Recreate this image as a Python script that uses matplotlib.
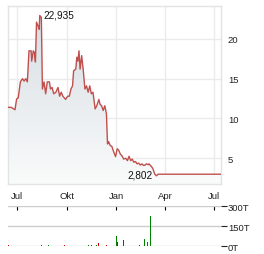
import numpy as np
import pandas as pd
import matplotlib
matplotlib.use("Agg")
import matplotlib.pyplot as plt
import matplotlib.dates as mdates

plt.rcParams['font.family'] = ['Liberation Sans', 'DejaVu Sans']

price_dates = [
    "2023-06-14", "2023-06-20", "2023-06-27", "2023-06-30", "2023-07-03", "2023-07-07",
    "2023-07-11", "2023-07-14", "2023-07-17", "2023-07-20", "2023-07-23", "2023-07-27",
    "2023-07-28", "2023-07-31", "2023-08-02", "2023-08-04", "2023-08-06", "2023-08-09",
    "2023-08-11", "2023-08-12", "2023-08-15", "2023-08-17", "2023-08-20", "2023-08-23",
    "2023-08-26", "2023-08-30", "2023-09-01", "2023-09-04", "2023-09-07", "2023-09-11",
    "2023-09-15", "2023-09-18", "2023-09-21", "2023-09-24", "2023-09-29", "2023-10-03",
    "2023-10-06", "2023-10-09", "2023-10-12", "2023-10-14", "2023-10-18", "2023-10-20",
    "2023-10-22", "2023-10-24", "2023-10-26", "2023-10-29", "2023-11-01", "2023-11-04",
    "2023-11-07", "2023-11-10", "2023-11-13", "2023-11-16", "2023-11-19", "2023-11-23",
    "2023-11-26", "2023-11-30", "2023-12-02", "2023-12-05", "2023-12-08", "2023-12-11",
    "2023-12-14", "2023-12-16", "2023-12-18", "2023-12-21", "2023-12-24", "2023-12-27",
    "2023-12-31", "2024-01-03", "2024-01-06", "2024-01-09", "2024-01-12", "2024-01-15",
    "2024-01-19", "2024-01-22", "2024-01-25", "2024-01-28", "2024-01-31", "2024-02-03",
    "2024-02-06", "2024-02-09", "2024-02-12", "2024-02-15", "2024-02-18", "2024-02-21",
    "2024-02-24", "2024-02-26", "2024-03-01", "2024-03-02", "2024-03-05", "2024-03-09",
    "2024-03-13", "2024-03-16", "2024-03-19", "2024-07-14",
]
prices = [
    11.4, 11.4, 11.1, 12.45, 12.6, 14.6,
    15.0, 14.7, 15.0, 14.6, 18.5, 18.5,
    17.2, 18.5, 18.3, 17.1, 22.1, 21.6,
    21.2, 22.935, 22.7, 13.7, 14.6, 13.1,
    14.6, 14.6, 13.7, 13.9, 13.1, 13.3,
    13.9, 12.8, 13.3, 12.8, 12.4, 12.8,
    12.8, 13.7, 14.1, 16.0, 16.2, 17.7,
    17.2, 18.5, 16.2, 17.9, 16.0, 13.7,
    14.1, 13.3, 14.1, 13.1, 13.3, 11.2,
    11.6, 12.4, 11.8, 11.6, 11.0, 11.6,
    10.6, 6.8, 7.1, 6.6, 6.5, 5.9,
    5.2, 6.2, 6.0, 5.5, 5.3, 4.9,
    5.0, 4.7, 5.25, 4.7, 4.9, 4.5,
    4.6, 4.3, 4.4, 4.15, 4.3, 4.1,
    4.15, 4.3, 4.2, 4.3, 4.1, 3.75,
    3.0, 2.802, 3.0, 3.0,
]

vol_dates = [
    "2023-06-15", "2023-07-23", "2023-08-15", "2023-08-29", "2023-09-27", "2023-11-06",
    "2023-11-10", "2023-11-16", "2023-11-25", "2023-11-29", "2023-12-14", "2023-12-17",
    "2023-12-30", "2024-01-02", "2024-01-04", "2024-01-15", "2024-01-23", "2024-02-14",
    "2024-02-22", "2024-02-28", "2024-03-05",
]
volumes = [8, 8, 8, 9, 8, 72, 8, 8, 9, 25, 8, 9, 9, 80, 32, 50, 115, 8, 57, 30, 227]
vol_up = [False, False, True, True, False, True, True, False, True, False, False, True,
          True, True, False, False, False, False, True, True, True]

tick_dates = ["2023-07-01", "2023-10-01", "2024-01-01", "2024-04-01", "2024-07-01"]
tick_labels = ["Jul", "Okt", "Jan", "Apr", "Jul"]
price_ticks = [5, 10, 15, 20]
vol_ticks = [0, 150, 300]
vol_tick_labels = ["0T", "150T", "300T"]

x = pd.to_datetime(price_dates)
xv = pd.to_datetime(vol_dates)
xt = pd.to_datetime(tick_dates)
x_lo, x_hi = pd.Timestamp("2023-06-14"), pd.Timestamp("2024-07-14")
y_lo, y_hi = 1.77, 24.13

fig = plt.figure(figsize=(2.64, 2.55), dpi=100)
ax = fig.add_axes([8 / 264, 1 - 185 / 255, 213 / 264, 178 / 255])
axv = fig.add_axes([8 / 264, 1 - 247.3 / 255, 213 / 264, 40 / 255])

# price panel
line_col = '#c0504d'
poly = ax.fill_between(x, prices, y_lo, color='none', lw=0)
grad = np.linspace(0, 1, 256).reshape(-1, 1)
cmap = matplotlib.colors.LinearSegmentedColormap.from_list('g', ['#fafbfb', '#d6dde3'])
xl = mdates.date2num([x_lo, x_hi])
im = ax.imshow(grad, aspect='auto', cmap=cmap, origin='lower',
               extent=[xl[0], xl[1], y_lo, 23.0], zorder=1)
im.set_clip_path(poly.get_paths()[0], transform=ax.transData)
ax.plot(x, prices, color=line_col, lw=1.0, zorder=3)

ax.set_xlim(x_lo, x_hi)
ax.set_ylim(y_lo, y_hi)
ax.set_xticks(xt)
ax.set_xticklabels(tick_labels)
ax.set_yticks(price_ticks)
ax.yaxis.tick_right()
ax.tick_params(axis='both', length=0, labelsize=6.8, colors='#222222')
ax.tick_params(axis='x', pad=5)
ax.tick_params(axis='y', pad=5)
ax.grid(True, color='#ebebeb', lw=1)
ax.set_axisbelow(True)
for s in ax.spines.values():
    s.set_color('#e3e3e3')
    s.set_linewidth(1)

i_max = int(np.argmax(prices))
i_min = int(np.argmin(prices))
ax.annotate(f"{prices[i_max]:.3f}".replace('.', ','), (x[i_max], prices[i_max]),
            xytext=(3, 1), textcoords='offset points', ha='left', va='center',
            fontsize=7.2, color='#111111', zorder=4)
ax.annotate(f"{prices[i_min]:.3f}".replace('.', ','), (x[i_min], prices[i_min]),
            xytext=(-3, 1), textcoords='offset points', ha='right', va='center',
            fontsize=7.2, color='#111111', zorder=4)

# volume panel
cols = ['#008000' if u else '#cc0000' for u in vol_up]
axv.bar(xv, volumes, width=1.6, color=cols, zorder=3)
axv.set_xlim(x_lo, x_hi)
axv.set_ylim(0, 300)
axv.set_yticks(vol_ticks)
axv.set_yticklabels(vol_tick_labels)
axv.yaxis.tick_right()
axv.set_xticks(xt)
axv.tick_params(axis='x', top=True, bottom=False, labelbottom=False, direction='in',
                length=3, width=0.8, color='#000000')
axv.tick_params(axis='y', length=4, width=0.8, pad=1, labelsize=6.8, colors='#222222')
axv.grid(True, axis='y', color='#cccccc', lw=1)
for s in axv.spines.values():
    s.set_visible(False)

fig.savefig('out.png', dpi=100)
